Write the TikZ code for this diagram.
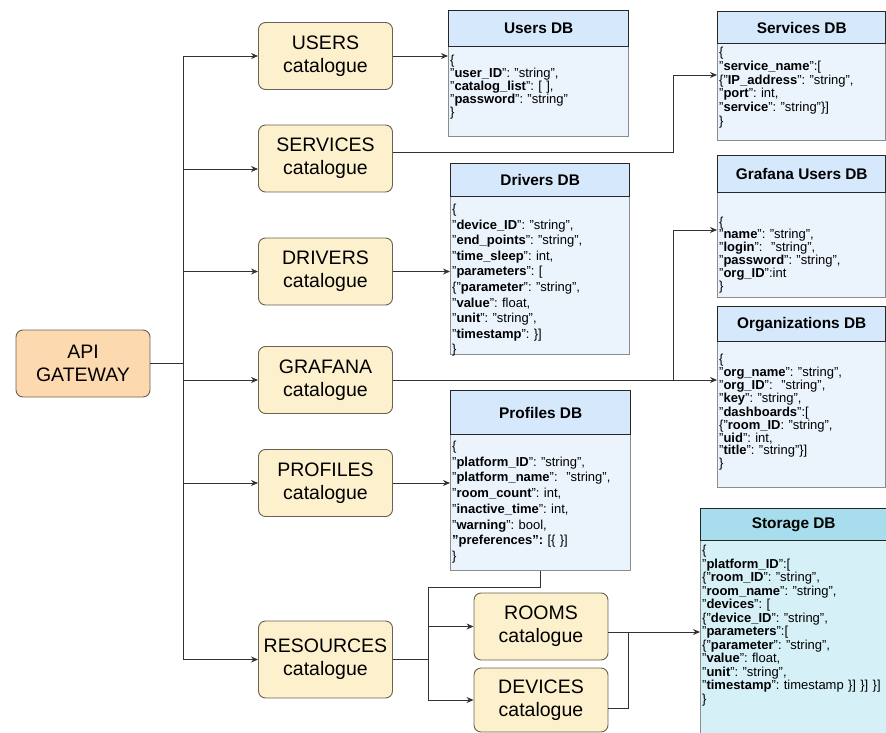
\documentclass[tikz,border=0pt]{standalone}
\usepackage{fontspec}
\setmainfont{Liberation Sans}
\usetikzlibrary{arrows.meta,calc}
\frenchspacing
\newcommand{\ky}[1]{"\textbf{#1}"}
\begin{document}
\begin{tikzpicture}[x=1pt,y=-1pt,
    link/.style={draw=linecolor, line width=0.9pt},
    arrow/.style={link, -{Stealth[length=7pt,width=6pt]}},
    cat/.style={draw=catdraw, fill=catfill, line width=0.9pt, rounded corners=7pt,
        minimum width=134pt, minimum height=67pt, inner sep=0pt, align=center,
        font=\fontsize{19.5}{23}\selectfont},
    dbhead/.style={draw=black!85, fill=headfill, line width=1.4pt, anchor=north west,
        inner sep=0pt, font=\bfseries\fontsize{15.4}{18}\selectfont},
    dbbody/.style={draw=bodydraw, fill=bodyfill, line width=0.9pt, anchor=north west, inner sep=0pt},
    dbtext/.style={anchor=base west, inner sep=0pt, text width=180pt, align=left,
        font=\fontsize{13}{#1}\selectfont},
]
    % Define colors
    \definecolor{linecolor}{RGB}{50,50,50}
    \definecolor{catfill}{RGB}{253,240,204}
    \definecolor{catdraw}{RGB}{105,98,82}
    \definecolor{gatefill}{RGB}{253,217,176}
    \definecolor{headfill}{RGB}{214,232,251}
    \definecolor{bodyfill}{RGB}{235,243,253}
    \definecolor{bodydraw}{RGB}{140,140,140}
    \definecolor{storehead}{RGB}{167,221,236}
    \definecolor{storebody}{RGB}{214,240,247}
    \useasboundingbox (0,0) rectangle (886,733);

    % Gateway and catalogues
    \node[cat, fill=gatefill] (api) at (83,363.5) {API\\GATEWAY};
    \node[cat] (usersC) at (325.5,56) {USERS\\catalogue};
    \node[cat] (servC) at (325.5,158.5) {SERVICES\\catalogue};
    \node[cat] (drvC) at (325.5,271.5) {DRIVERS\\catalogue};
    \node[cat] (grafC) at (325.5,380) {GRAFANA\\catalogue};
    \node[cat] (profC) at (325.5,483) {PROFILES\\catalogue};
    \node[cat, minimum height=77pt] (resC) at (325.5,659.5) {RESOURCES\\catalogue};
    \node[cat] (roomsC) at (541,626.5) {ROOMS\\catalogue};
    \node[cat, minimum height=64pt] (devC) at (541,700) {DEVICES\\catalogue};

    % Users DB
    \node[dbbody, minimum width=180pt, minimum height=90pt] (usersB) at (448,46) {};
    \node[dbhead, minimum width=180pt, minimum height=36pt] (usersH) at (448,10) {Users DB};
    \node[dbtext=13] (usersT) at ($(usersB.north west)+(2,18.5)$)
        {\{\\ \ky{user\_ID}: "string",\\ \ky{catalog\_list}: [ ],\\ \ky{password}: "string"\\ \}};

    % Services DB
    \node[dbbody, minimum width=168pt, minimum height=97pt] (servB) at (717,43) {};
    \node[dbhead, minimum width=168pt, minimum height=32pt] (servH) at (717,11) {Services DB};
    \node[dbtext=13.8] (servT) at ($(servB.north west)+(2,13.5)$)
        {\{\\ \ky{service\_name}:[\\ \{\ky{IP\_address}: "string",\\ \ky{port}: int,\\
         \ky{service}: "string"\}]\\ \}};

    % Drivers DB
    \node[dbbody, minimum width=179pt, minimum height=158pt] (drvB) at (450,196) {};
    \node[dbhead, minimum width=179pt, minimum height=33pt] (drvH) at (450,163) {Drivers DB};
    \node[dbtext=15.6] (drvT) at ($(drvB.north west)+(2,17.5)$)
        {\{\\ \ky{device\_ID}: "string",\\ \ky{end\_points}: "string",\\ \ky{time\_sleep}: int,\\
         \ky{parameters}: [\\ \{\ky{parameter}: "string",\\ \ky{value}: float,\\
         \ky{unit}: "string",\\ \ky{timestamp}: \}]\\ \}};

    % Grafana Users DB
    \node[dbbody, minimum width=168pt, minimum height=105pt] (gusB) at (717,192) {};
    \node[dbhead, minimum width=168pt, minimum height=37pt] (gusH) at (717,155) {Grafana Users DB};
    \node[dbtext=12.8] (gusT) at ($(gusB.north west)+(2,34)$)
        {\{\\ \ky{name}: "string",\\ \ky{login}:\ \ "string",\\ \ky{password}: "string",\\
         \ky{org\_ID}:int\\ \}};

    % Organizations DB
    \node[dbbody, minimum width=168pt, minimum height=146pt] (orgB) at (717,341) {};
    \node[dbhead, minimum width=168pt, minimum height=35pt] (orgH) at (717,306) {Organizations DB};
    \node[dbtext=11.8] (orgT) at ($(orgB.north west)+(2,22.5)$)
        {\{\\ \ky{org\_name}: "string",\\ \ky{org\_ID}:\ \ "string",\\ \ky{key}: "string",\\
         \ky{dashboards}:[\\ \{"\textbf{room\_ID}: "string",\\ \ky{uid}: int,\\
         \ky{title}: "string"\}]\\ \}};

    % Profiles DB
    \node[dbbody, minimum width=180pt, minimum height=136pt] (profB) at (450,434) {};
    \node[dbhead, minimum width=180pt, minimum height=44pt] (profH) at (450,390) {Profiles DB};
    \node[dbtext=15.7] (profT) at ($(profB.north west)+(2,16.5)$)
        {\{\\ \ky{platform\_ID}: "string",\\ \ky{platform\_name}:\ \ "string",\\
         \ky{room\_count}: int,\\ \ky{inactive\_time}: int,\\ \ky{warning}: bool,\\
         \textbf{"preferences":} [\{ \}]\\ \}};

    % Storage DB
    \node[dbbody, fill=storebody, minimum width=186pt, minimum height=193pt] (storeB) at (700,540) {};
    \node[dbhead, fill=storehead, minimum width=186pt, minimum height=32pt] (storeH) at (700,508) {Storage DB};
    \node[dbtext=13.5] (storeT) at ($(storeB.north west)+(2,14.5)$)
        {\{\\ \ky{platform\_ID}:[\\ \{\ky{room\_ID}: "string",\\ \ky{room\_name}: "string",\\
         \ky{devices}: [\\ \{\ky{device\_ID}: "string",\\ \ky{parameters}:[\\
         \{\ky{parameter}: "string",\\ \ky{value}: float,\\ \ky{unit}: "string",\\
         \ky{timestamp}: timestamp \}] \}] \}]\\ \}};

    % Gateway to catalogues
    \coordinate (bus) at (183,363.5);
    \coordinate (servIn) at ($(servC.west)+(0,10.5)$);
    \draw[link] (api.east) -- (bus);
    \draw[link] (bus |- usersC.west) -- (bus |- resC.west);
    \foreach \c in {usersC,drvC,grafC,profC,resC}
        \draw[arrow] (bus |- \c.west) -- (\c.west);
    \draw[arrow] (bus |- servIn) -- (servIn);

    % Catalogues to DBs
    \draw[arrow] (usersC.east) -- (usersC.east -| usersB.west);
    \coordinate (servOut) at ($(servC.east)+(0,-6.5)$);
    \coordinate (servDB) at ($(servB.north west)+(0,32)$);
    \draw[arrow] (servOut) -| ($(servDB)+(-44,0)$) -- (servDB);
    \draw[arrow] (drvC.east) -- (drvC.east -| drvB.west);
    \draw[arrow] (grafC.east) -- (grafC.east -| orgB.west);
    \coordinate (gusDB) at ($(gusB.north west)+(0,38)$);
    \draw[arrow] ($(grafC.east -| gusDB)+(-44,0)$) |- (gusDB);
    \draw[arrow] (profC.east) -- (profC.east -| profB.west);

    % Profiles and resources to rooms and devices
    \coordinate (fork) at ($(profB.south)+(-112,17)$);
    \draw[link] (profB.south) |- (fork) -- (fork |- devC.west);
    \draw[arrow] (fork |- roomsC.west) -- (roomsC.west);
    \draw[arrow] (fork |- devC.west) -- (devC.west);
    \draw[link] (resC.east) -- (resC.east -| fork);

    % Rooms and devices to storage
    \coordinate (roomOut) at ($(roomsC.east)+(0,5.5)$);
    \draw[arrow] (roomOut) -- (roomOut -| storeB.west);
    \draw[link] ($(devC.east)+(0,8)$) -| ($(roomOut)+(20,0)$);
\end{tikzpicture}
\end{document}
